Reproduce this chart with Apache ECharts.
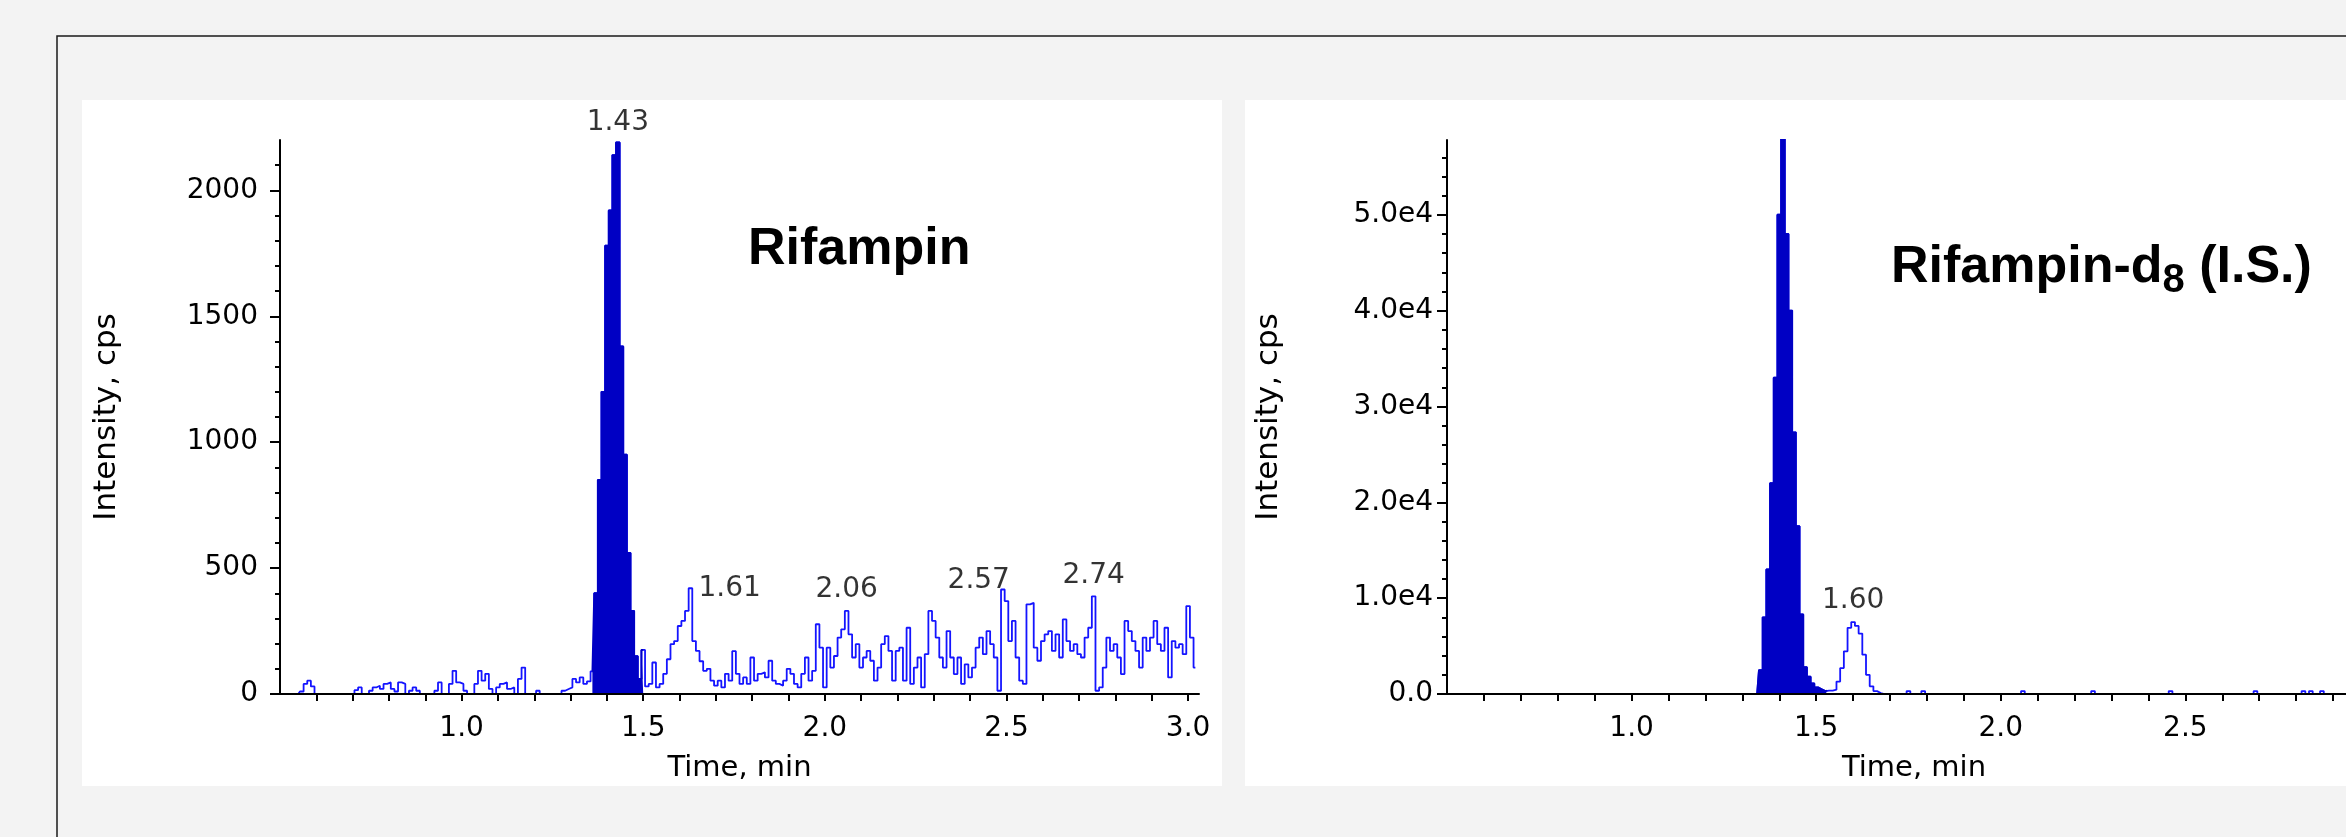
<!DOCTYPE html>
<html>
<head>
<meta charset="utf-8">
<title>Rifampin XIC</title>
<script src="https://cdn.jsdelivr.net/npm/echarts@6/dist/echarts.min.js"></script>
<style>
  html, body { margin: 0; padding: 0; background: #f3f3f3; }
  #chart { width: 2346px; height: 837px; }
</style>
</head>
<body>
<div id="chart"></div>
<script>
// scan grid of both traces (min)
const scanStart = 0.5;
const scanStep = 0.01;

// Rifampin trace, cps, one value per scan from 0.50 min
const rifampinCps = [
  0, 0, 0, 0, 0, 0, 10, 40, 53, 30,            // 0.50
  0, 0, 0, 0, 0, 0, 0, 0, 0, 0,                // 0.60
  0, 15, 26, 0, 0, 13, 26, 33, 20, 40,         // 0.70
  46, 20, 10, 46, 40, 0, 13, 26, 13, 0,        // 0.80
  0, 0, 0, 13, 46, 0, 0, 40, 92, 46,           // 0.90
  40, 13, 0, 0, 40, 92, 53, 80, 20, 0,         // 1.00
  26, 40, 46, 20, 26, 0, 60, 105, 0, 0,        // 1.10
  0, 13, 0, 0, 0, 0, 0, 0, 13, 20,             // 1.20
  26, 60, 46, 66, 40, 50, 90, 400, 850, 1200,  // 1.30
  1780, 1920, 2140, 2190, 1380, 950, 560, 330, 150, 60, // 1.40
  175, 30, 40, 125, 26, 40, 80, 138, 198, 210, // 1.50
  270, 290, 330, 420, 210, 171, 130, 92, 100, 53, // 1.60
  33, 53, 26, 80, 53, 170, 80, 40, 66, 40,     // 1.70
  145, 53, 80, 86, 66, 132, 53, 40, 33, 53,    // 1.80
  100, 80, 40, 26, 80, 145, 53, 92, 277, 184,  // 1.90
  26, 184, 105, 151, 224, 257, 330, 237, 145, 198, // 2.00
  105, 145, 171, 132, 53, 105, 198, 230, 171, 53,  // 2.10
  171, 184, 53, 263, 40, 105, 145, 26, 158, 330,   // 2.20
  290, 224, 145, 105, 250, 145, 79, 145, 40, 118,  // 2.30
  66, 105, 184, 224, 158, 250, 198, 145, 13, 415,  // 2.40
  369, 210, 290, 145, 53, 40, 356, 362, 184, 132,  // 2.50
  210, 237, 250, 171, 237, 145, 296, 210, 171, 198, // 2.60
  158, 145, 224, 263, 388, 13, 26, 105, 224, 171,  // 2.70
  198, 145, 79, 290, 250, 210, 171, 105, 224, 171, // 2.80
  224, 290, 198, 171, 263, 66, 210, 184, 198, 158, // 2.90
  349, 224, 105                                    // 3.00
];

// Rifampin-d8 (I.S.) trace, cps
const internalStdCps = [
  0, 0, 0, 0, 0, 0, 0, 0, 0, 0,   // 0.50
  0, 0, 0, 0, 0, 0, 0, 0, 0, 0,   // 0.60
  0, 0, 0, 0, 0, 0, 0, 0, 0, 0,   // 0.70
  0, 0, 0, 0, 0, 0, 0, 0, 0, 0,   // 0.80
  0, 0, 0, 0, 0, 0, 0, 0, 0, 0,   // 0.90
  0, 0, 0, 0, 0, 0, 0, 0, 0, 0,   // 1.00
  0, 0, 0, 0, 0, 0, 0, 0, 0, 0,   // 1.10
  0, 0, 0, 0, 0, 0, 0, 0, 0, 0,   // 1.20
  0, 0, 0, 0, 0, 2500, 8000, 13000, 22000, 33000,              // 1.30
  50000, 58000, 48000, 40000, 27300, 17500, 8300, 2800, 1800, 1100, // 1.40
  700, 500, 300, 350, 350, 450, 1300, 2700, 4450, 6900,        // 1.50
  7500, 7100, 6300, 4100, 2000, 800, 300, 100, 0, 0,           // 1.60
  0, 0, 0, 0, 0, 300, 0, 0, 0, 300,   // 1.70
  0, 0, 0, 0, 0, 0, 0, 0, 0, 0,       // 1.80
  0, 0, 0, 0, 0, 0, 0, 0, 0, 0,       // 1.90
  0, 0, 0, 0, 0, 0, 300, 0, 0, 0,     // 2.00
  0, 0, 0, 0, 0, 0, 0, 0, 0, 0,       // 2.10
  0, 0, 0, 0, 0, 300, 0, 0, 0, 0,     // 2.20
  0, 0, 0, 0, 0, 0, 0, 0, 0, 0,       // 2.30
  0, 0, 0, 0, 0, 0, 300, 0, 0, 0,     // 2.40
  0, 0, 0, 0, 0, 0, 0, 0, 0, 0,       // 2.50
  0, 0, 0, 0, 0, 0, 0, 0, 0, 300,     // 2.60
  0, 0, 0, 0, 0, 0, 0, 0, 0, 0,       // 2.70
  0, 0, 300, 0, 300, 0, 0, 300, 0, 0, // 2.80
  0, 0, 0, 0, 0, 0, 0, 0, 0, 0,       // 2.90
  0, 0, 0                             // 3.00
];

// peak annotations: printed RT and the scan it sits on
const rifampinPeakNames = ["1.43", "1.61", "2.06", "2.57", "2.74"];
const rifampinPeakScans = [1.43, 1.63, 2.06, 2.57, 2.74];
const internalStdPeakNames = ["1.42", "1.60"];
const internalStdPeakScans = [1.41, 1.60];

// integrated (filled) windows, min
const rifampinFill = [1.36, 1.50];
const internalStdFill = [1.34, 1.53];

// axis ticks
const timeTicks = [1.0, 1.5, 2.0, 2.5, 3.0];
const rifampinTicks = [0, 500, 1000, 1500, 2000];
const internalStdTicks = [0, 10000, 20000, 30000, 40000, 50000];

const FONT = "DejaVu Sans";
const TEXT = "#000";
const LINE_BLUE = "#1414ff";
const FILL_BLUE = "#0000c4";

const steps = (from, to, step) => {
  const out = [];
  for (let v = from; v <= to + step / 1000; v += step) out.push(+v.toFixed(4));
  return out;
};
const toPairs = (values) => values.map((v, i) => [+(scanStart + i * scanStep).toFixed(2), v]);
const valueAt = (values, t) => values[Math.round((t - scanStart) / scanStep)];

const makeXAxis = (gridIndex) => ({
  type: "value",
  gridIndex,
  min: 0.5,
  max: 3.03,
  z: 5,
  name: "Time, min",
  nameLocation: "middle",
  nameGap: 60,
  nameTextStyle: { fontFamily: FONT, fontSize: 29, color: TEXT },
  axisLine: { lineStyle: { color: "#000", width: 2 } },
  axisTick: { customValues: steps(0.6, 3.0, 0.1), length: 7, lineStyle: { color: "#000", width: 2 } },
  axisLabel: {
    customValues: timeTicks,
    margin: 21,
    fontFamily: FONT,
    fontSize: 28,
    color: TEXT,
    formatter: (v) => v.toFixed(1),
  },
  splitLine: { show: false },
});

const makeYAxes = (gridIndex, max, ticks, minorTicks, fmt, nameGap, margin) => [
  {
    type: "value",
    gridIndex,
    position: "left",
    min: 0,
    max,
    z: 5,
    name: "Intensity, cps",
    nameLocation: "middle",
    nameGap,
    nameTextStyle: { fontFamily: FONT, fontSize: 31, color: TEXT },
    axisLine: { show: true, lineStyle: { color: "#000", width: 2 } },
    axisTick: { show: true, customValues: ticks, length: 10, lineStyle: { color: "#000", width: 2 } },
    axisLabel: { customValues: ticks, margin, fontFamily: FONT, fontSize: 28, color: TEXT, formatter: fmt },
    splitLine: { show: false },
  },
  {
    type: "value",
    gridIndex,
    position: "left",
    min: 0,
    max,
    z: 5,
    axisLine: { show: false },
    axisTick: { show: true, customValues: minorTicks, length: 5, lineStyle: { color: "#000", width: 2 } },
    axisLabel: { show: false },
    splitLine: { show: false },
  },
];

const makeTraceSeries = (axisIndex, values, fillWindow) => {
  const pairs = toPairs(values);
  const filled = pairs.filter((p) => p[0] >= fillWindow[0] - 1e-6 && p[0] <= fillWindow[1] + 1e-6);
  return [
    {
      type: "line",
      xAxisIndex: axisIndex,
      yAxisIndex: axisIndex * 2,
      step: "middle",
      symbol: "none",
      data: pairs,
      lineStyle: { color: LINE_BLUE, width: 1.8 },
      z: 2,
    },
    {
      type: "line",
      xAxisIndex: axisIndex,
      yAxisIndex: axisIndex * 2,
      step: "middle",
      symbol: "none",
      data: filled,
      lineStyle: { color: FILL_BLUE, width: 1.8 },
      areaStyle: { color: FILL_BLUE, opacity: 1 },
      z: 3,
    },
  ];
};

const makePeakLabels = (axisIndex, values, names, scans, placements) => ({
  type: "scatter",
  xAxisIndex: axisIndex,
  yAxisIndex: axisIndex * 2,
  symbolSize: 0,
  silent: true,
  z: 4,
  data: scans.map((t, i) => ({
    value: [t, valueAt(values, t)],
    name: names[i],
    label: placements[i],
  })),
  label: {
    show: true,
    formatter: (p) => p.name,
    fontFamily: FONT,
    fontSize: 28,
    color: TEXT,
  },
});

const chart = echarts.init(document.getElementById("chart"));

chart.setOption({
  animation: false,
  backgroundColor: "#f3f3f3",
  graphic: {
    elements: [
      { type: "rect", z: -10, shape: { x: 57, y: 36, width: 2400, height: 900 }, style: { fill: "#f3f3f3", stroke: "#1a1a1a", lineWidth: 1.5 } },
      { type: "rect", z: -9, shape: { x: 82, y: 100, width: 1140, height: 686 }, style: { fill: "#ffffff" } },
      { type: "rect", z: -9, shape: { x: 1245, y: 100, width: 1200, height: 686 }, style: { fill: "#ffffff" } },
    ],
  },
  title: [
    {
      text: "Rifampin",
      left: 743,
      top: 219,
      textStyle: { fontFamily: "Liberation Sans", fontWeight: "bold", fontSize: 52, color: "#000" },
    },
    {
      text: "Rifampin-d{sub|8} (I.S.)",
      left: 1886,
      top: 230,
      textStyle: {
        fontFamily: "Liberation Sans",
        fontWeight: "bold",
        fontSize: 52,
        color: "#000",
        rich: {
          sub: { fontFamily: "Liberation Sans", fontWeight: "bold", fontSize: 40, color: "#000", padding: [26, 0, 0, 0] },
        },
      },
    },
  ],
  grid: [
    { left: 280, top: 140, width: 919, height: 554, outerBoundsMode: "none" },
    { left: 1447, top: 140, width: 934, height: 554, outerBoundsMode: "none" },
  ],
  xAxis: [makeXAxis(0), makeXAxis(1)],
  yAxis: [
    ...makeYAxes(0, 2200, rifampinTicks, steps(100, 2100, 100), (v) => String(v), 158, 22),
    ...makeYAxes(1, 57800, internalStdTicks, steps(2000, 56000, 2000),
      (v) => (v === 0 ? "0.0" : (v / 10000).toFixed(1) + "e4"), 163, 14),
  ],
  series: [
    ...makeTraceSeries(0, rifampinCps, rifampinFill),
    ...makeTraceSeries(1, internalStdCps, internalStdFill),
    makePeakLabels(0, rifampinCps, rifampinPeakNames, rifampinPeakScans, [
      { position: "top", distance: 6 },
      { position: "right", distance: 8 },
      { position: "top", distance: 7 },
      { position: "left", distance: 22, offset: [0, -22] },
      { position: "top", distance: 7 },
    ]),
    makePeakLabels(1, internalStdCps, internalStdPeakNames, internalStdPeakScans, [
      { position: "top", distance: 8 },
      { position: "top", distance: 7 },
    ]),
  ],
});
</script>
</body>
</html>
